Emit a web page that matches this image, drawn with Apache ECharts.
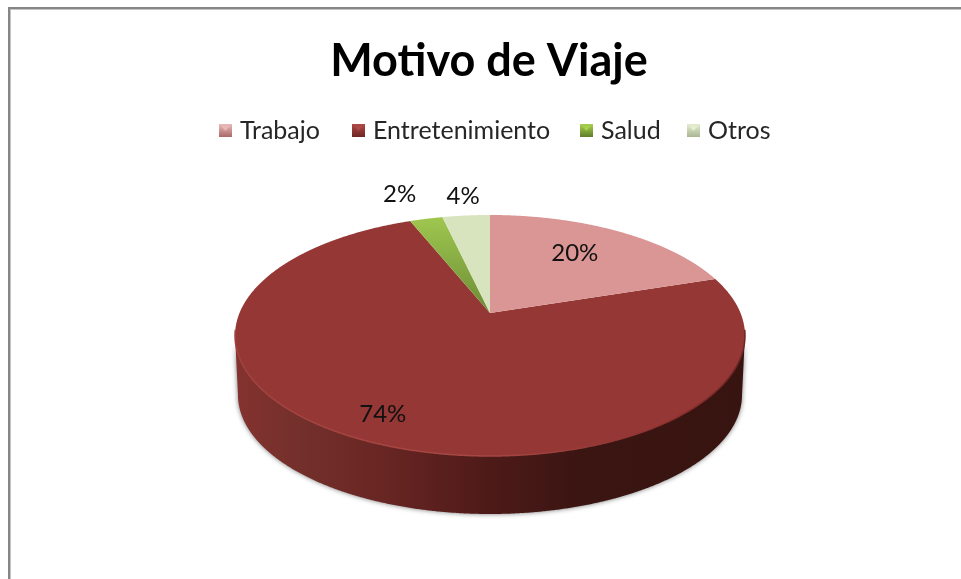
<!DOCTYPE html>
<html>
<head>
<meta charset="utf-8">
<script src="https://cdn.jsdelivr.net/npm/echarts@6/dist/echarts.min.js"></script>
<style>
  html, body { margin: 0; padding: 0; background: #fff; }
  #chart { width: 961px; height: 579px; }
</style>
</head>
<body>
<div id="chart"></div>
<script>
// valores
var categories = ['Trabajo', 'Entretenimiento', 'Salud', 'Otros'];
var shares = [20, 73.9, 2.49, 3.61];

var colors = ['#d99694', '#953735', '#9bc24f', '#d7e4bd'];
var legendLeft = [219, 352, 580, 687];
var legendColors = [
  ['#eababa', '#a86a68'],
  ['#b04a48', '#6e2523'],
  ['#a8d24e', '#5f7d2a'],
  ['#e6eed2', '#a9b593']
];
// posicion de cada etiqueta: radio relativo y ajuste en px
var labelRadius = [0.68, 0.85, 1.2, 1.2];
var labelShift = [[-6, -2], [-2, -3], [-16, -9], [1, -3]];

// proyeccion en perspectiva del disco
var cx = 490, apexY = 313, persp = 0.1867, radX = 250.5, radY = 116.3;
// elipses del borde superior e inferior
var topRx = 255, topRy = 120.5, topCy = 335.5;
var botRx = 252, botRy = 119, botCy = 395;

var fontName = 'Lato, "Noto Sans", sans-serif';

function project(angle, r) {
  var X = r * Math.sin(angle), Y = -r * Math.cos(angle), d = 1 - persp * Y;
  return [cx + radX * X / d, apexY + radY * Y / d];
}

function renderSlice(params, api) {
  var start = api.value(1) / 100 * Math.PI * 2;
  var end = (api.value(1) + api.value(0)) / 100 * Math.PI * 2;
  var idx = params.seriesIndex;
  var rim = [];
  var steps = Math.max(4, Math.ceil((end - start) / 0.005));
  for (var i = 0; i <= steps; i++) {
    rim.push(project(start + (end - start) * i / steps, 1));
  }

  // pared lateral, solo la mitad cercana
  var wallTop = [], wallBot = [], edge = [];
  rim.forEach(function (p) {
    var c = (p[0] - cx) / topRx, s = (p[1] - topCy) / topRy;
    if (s < -0.05) return;
    var phi = Math.atan2(Math.max(s, 0), c);
    wallTop.push([cx + topRx * Math.cos(phi), topCy + topRy * Math.sin(phi)]);
    wallBot.push([cx + botRx * Math.cos(phi), botCy + botRy * Math.sin(phi)]);
    edge.push(p);
  });

  var children = [];
  if (wallTop.length > 1) {
    children.push({
      type: 'polygon',
      shape: { points: wallTop.concat(wallBot.slice().reverse()) },
      style: {
        fill: {
          type: 'linear', x: 235, y: 0, x2: 745, y2: 0, global: true,
          colorStops: [
            { offset: 0, color: '#84322f' },
            { offset: 0.12, color: '#74302b' },
            { offset: 0.3, color: '#672523' },
            { offset: 0.5, color: '#4d1a18' },
            { offset: 0.68, color: '#3a1512' },
            { offset: 1, color: '#381410' }
          ]
        },
        shadowColor: 'rgba(60,60,60,0.7)',
        shadowBlur: 5
      }
    });
  }

  var faceFill = colors[idx];
  if (categories[idx] === 'Salud') {
    faceFill = {
      type: 'linear', x: 0, y: 0, x2: 0, y2: 1,
      colorStops: [{ offset: 0, color: '#9fc74f' }, { offset: 1, color: '#6c8c36' }]
    };
  }
  children.push({
    type: 'polygon',
    shape: { points: rim.concat([[cx, apexY]]) },
    style: { fill: faceFill }
  });
  if (edge.length > 1) {
    children.push({
      type: 'polyline',
      shape: { points: edge },
      style: {
        fill: null,
        lineWidth: 1.5,
        stroke: {
          type: 'linear', x: 235, y: 0, x2: 745, y2: 0, global: true,
          colorStops: [
            { offset: 0, color: '#a2423f' },
            { offset: 0.5, color: '#a84744' },
            { offset: 0.85, color: '#8a302e' },
            { offset: 1, color: '#6b2523' }
          ]
        }
      }
    });
  }

  var mid = (start + end) / 2;
  var lp = project(mid, labelRadius[idx]);
  children.push({
    type: 'text',
    x: lp[0] + labelShift[idx][0],
    y: lp[1] + labelShift[idx][1],
    style: {
      text: api.value(0).toFixed(0) + '%',
      font: '24px ' + fontName,
      fill: '#111',
      align: 'center',
      verticalAlign: 'middle'
    }
  });
  return { type: 'group', children: children };
}

var chart = echarts.init(document.getElementById('chart'), null, { renderer: 'canvas' });

var cumulative = 0;
var seriesList = categories.map(function (name, i) {
  var item = {
    name: name,
    type: 'custom',
    coordinateSystem: 'none',
    renderItem: renderSlice,
    silent: true,
    animation: false,
    itemStyle: { color: colors[i] },
    // la pared de Entretenimiento queda debajo
    z: name === 'Entretenimiento' ? 1 : 2,
    data: [[shares[i], cumulative]]
  };
  cumulative += shares[i];
  return item;
});

var legends = categories.map(function (name, i) {
  return {
    left: legendLeft[i],
    top: 118,
    padding: 0,
    selectedMode: false,
    icon: 'rect',
    itemWidth: 13,
    itemHeight: 13,
    itemGap: 0,
    textStyle: { fontFamily: fontName, fontSize: 25, color: '#262626', padding: [0, 0, 0, 3] },
    data: [{
      name: name,
      itemStyle: {
        color: {
          type: 'linear', x: 0, y: 0, x2: 0, y2: 1,
          colorStops: [
            { offset: 0, color: legendColors[i][0] },
            { offset: 1, color: legendColors[i][1] }
          ]
        },
        borderWidth: 0
      }
    }]
  };
});

// triangulito claro de cada muestra de la leyenda
var swatchMarks = legendLeft.map(function (x, i) {
  return {
    type: 'polygon',
    z: 100,
    shape: { points: [[x + 2, 126], [x + 11, 126], [x + 6.5, 131]] },
    style: { fill: legendColors[i][0], opacity: 0.9 }
  };
});

chart.setOption({
  backgroundColor: '#fff',
  animation: false,
  title: {
    text: 'Motivo de Viaje',
    left: 484,
    top: 34,
    textAlign: 'center',
    textStyle: { fontFamily: fontName, fontSize: 45, fontWeight: 'bold', color: '#000' }
  },
  legend: legends,
  graphic: [
    { type: 'rect', shape: { x: 8, y: 7, width: 953, height: 2 }, style: { fill: '#868686' } },
    { type: 'rect', shape: { x: 8, y: 7, width: 2, height: 572 }, style: { fill: '#868686' } },
    { type: 'rect', shape: { x: 10, y: 9, width: 951, height: 1 }, style: { fill: '#c4c4c4' } },
    { type: 'rect', shape: { x: 10, y: 9, width: 1, height: 570 }, style: { fill: '#c4c4c4' } }
  ].concat(swatchMarks),
  series: seriesList
});

window.addEventListener('resize', function () {
  chart.resize();
});
</script>
</body>
</html>
